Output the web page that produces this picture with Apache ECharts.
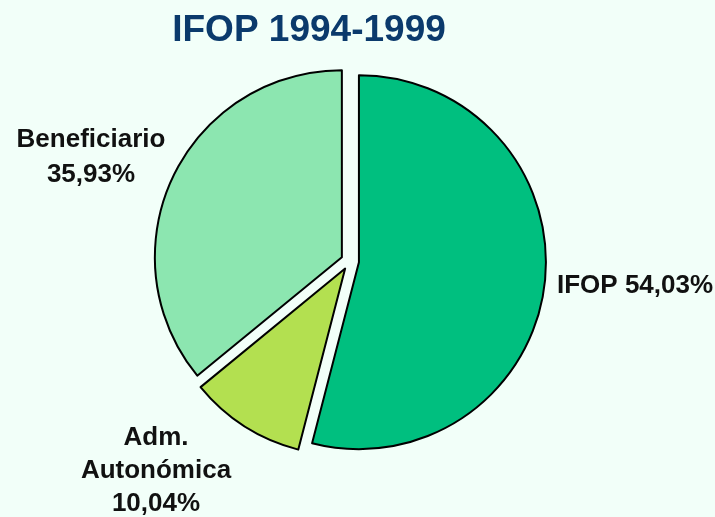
<!DOCTYPE html>
<html>
<head>
<meta charset="utf-8">
<script src="https://cdn.jsdelivr.net/npm/echarts@6/dist/echarts.min.js"></script>
<style>
  html, body { margin: 0; padding: 0; background: #f2fff9; }
  #main { width: 715px; height: 517px; }
</style>
</head>
<body>
<div id="main"></div>
<script>
// datos del grafico
var titulo = 'IFOP 1994-1999';
var categorias = ['IFOP', 'Adm.\nAutonómica', 'Beneficiario'];
var valores = [54.03, 10.04, 35.93];
var colores = ['#00bf7f', '#b3e050', '#8ce6b0'];

// posicion de cada etiqueta (x, y centro, alineacion, separador)
var posEtiquetas = [
    { x: 557, y: 286, align: 'left', sep: ' ', lh: 34 },
    { x: 156, y: 471, align: 'center', sep: '\n', lh: 33 },
    { x: 91, y: 157, align: 'center', sep: '\n', lh: 35 }
];

var fuente = 'Liberation Sans, Arial, sans-serif';

function fmt(v) {
    return v.toFixed(2).replace('.', ',') + '%';
}

var datos = [];
var etiquetas = [];
for (var i = 0; i < categorias.length; i++) {
    datos.push({
        name: categorias[i],
        value: valores[i],
        selected: true,
        itemStyle: { color: colores[i] }
    });
    var p = posEtiquetas[i];
    etiquetas.push({
        type: 'text',
        x: p.x,
        y: p.y,
        silent: true,
        style: {
            text: categorias[i] + p.sep + fmt(valores[i]),
            fontFamily: fuente,
            fontSize: 26,
            fontWeight: 'bold',
            fill: '#111',
            align: p.align,
            verticalAlign: 'middle',
            lineHeight: p.lh
        }
    });
}

var myChart = echarts.init(document.getElementById('main'));
var option = {
    backgroundColor: '#f2fff9',
    animation: false,
    title: {
        text: titulo,
        left: 304,
        top: 7,
        textAlign: 'center',
        textStyle: {
            fontFamily: fuente,
            fontSize: 37,
            fontWeight: 'bold',
            color: '#0b3a6c'
        }
    },
    graphic: etiquetas,
    series: [
        {
            type: 'pie',
            center: [350, 261],
            radius: 187,
            startAngle: 90,
            clockwise: true,
            selectedMode: 'multiple',
            selectedOffset: 9,
            emphasis: { disabled: true },
            itemStyle: {
                borderColor: '#000',
                borderWidth: 2
            },
            label: { show: false },
            labelLine: { show: false },
            data: datos
        }
    ]
};
myChart.setOption(option);
</script>
</body>
</html>
